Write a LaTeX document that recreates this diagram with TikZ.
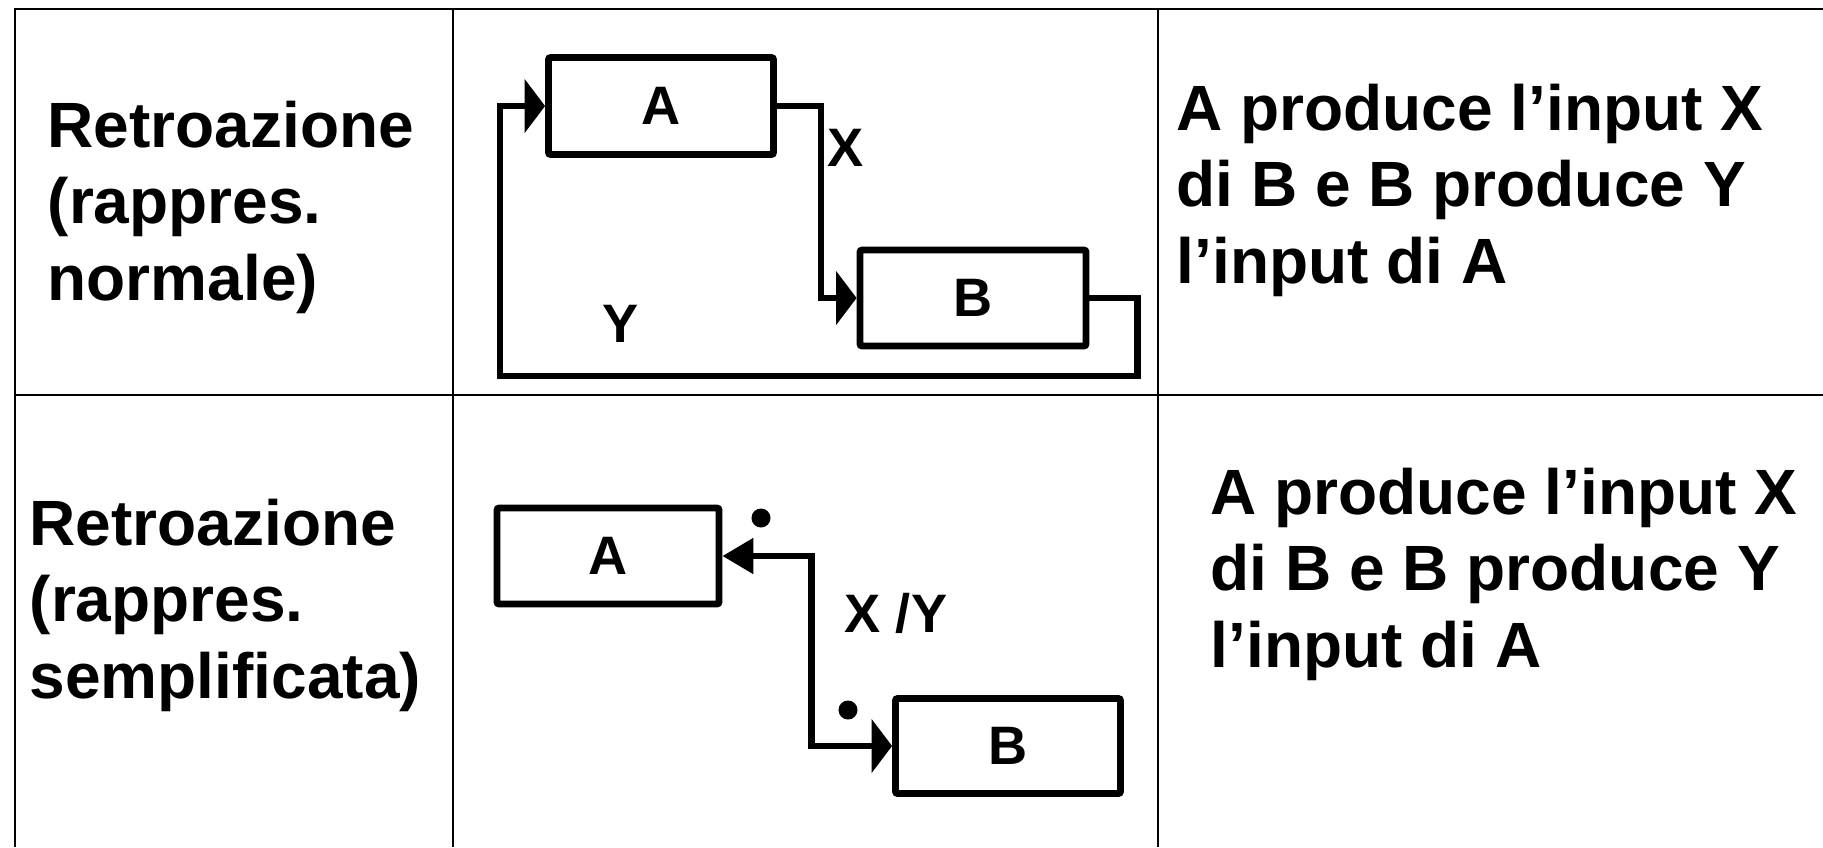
\documentclass[tikz,border=0pt]{standalone}
\usepackage{fontspec}
\setmainfont{Liberation Sans}
\usetikzlibrary{arrows.meta, positioning, calc}

\begin{document}
\begin{tikzpicture}[
  x=0.01cm, y=-0.01cm,
  font=\bfseries,
  grid/.style={black, line width=0.7pt},
  blk/.style={draw, line width=1.9pt, rounded corners=0.6pt, inner sep=0pt,
              font=\fontsize{15.4}{18}\selectfont\bfseries},
  sig/.style={line width=1.9pt, -{Triangle[length=5.8pt, width=15pt]}},
  both/.style={line width=1.9pt,
               {Triangle[length=8.8pt, width=9.8pt]}-{Triangle[length=5.8pt, width=15pt]}},
  lbl/.style={font=\fontsize{15.4}{18}\selectfont\bfseries, inner sep=0pt},
  cell/.style={anchor=base west, inner sep=0pt, align=left,
               font=\fontsize{18.2}{21.7}\selectfont\bfseries},
  dotmark/.style={circle, fill, inner sep=0pt, minimum size=0.19cm}
]
  \useasboundingbox (0,0) rectangle (1823,847);

  %--- table rules ---
  \draw[grid] (15,847) -- (15,9) -- (1823,9);
  \draw[grid] (15,395) -- (1823,395);
  \foreach \x in {453,1158}
    \draw[grid] (\x,9) -- (\x,847);

  %--- row 1: normal form (base = last line) ---
  \node[cell] (r1h) at (47,300) {Retroazione\\(rappres.\\normale)};

  \node[blk, minimum width=2.25cm, minimum height=0.97cm] (A1) at (661,106) {A};
  \node[blk, minimum width=2.26cm, minimum height=0.96cm] (B1) at (973,298) {B};
  \coordinate (loopSW) at (500,376);

  \draw[sig] (A1.east) -- ++(44,0) |- (B1.west);
  \draw[sig] (B1.east) -- ++(48,0) |- (loopSW) |- (A1.west);
  \node[lbl] (lX) at (846,148) {X};
  \node[lbl] (lY) at (621,324) {Y};

  \node[cell] (r1d) at (1176,283) {A produce l’input X\\di B e B produce Y\\l’input di A};

  %--- row 2: simplified form ---
  \node[cell] (r2h) at (29,698) {Retroazione\\(rappres.\\semplificata)};

  \node[blk, minimum width=2.22cm, minimum height=0.96cm] (A2) at (608,556) {A};
  \node[blk, minimum width=2.25cm, minimum height=0.95cm] (B2) at (1008,746) {B};

  \draw[both] (A2.east) -- ++(89,0) |- (B2.west);
  \node[dotmark] (dA) at (761,518) {};
  \node[dotmark] (dB) at (848,710) {};
  \node[lbl] (lXY) at (896,613) {X /Y};

  \node[cell] (r2d) at (1210,667) {A produce l’input X\\di B e B produce Y\\l’input di A};
\end{tikzpicture}
\end{document}
